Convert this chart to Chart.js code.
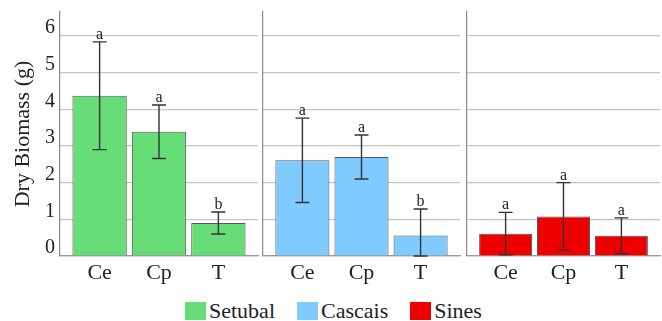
<!DOCTYPE html>
<html>
<head>
<meta charset="utf-8">
<script src="https://cdn.jsdelivr.net/npm/chart.js@4.4.1/dist/chart.umd.min.js"></script>
<style>
  html, body { margin: 0; padding: 0; background: #fff; }
  #wrap { position: relative; width: 662px; height: 321px; overflow: hidden; font-family: "Liberation Serif", "Times New Roman", Times, Tinos, "DejaVu Serif", "Noto Serif", serif; }
  canvas { position: absolute; top: 0; }
  #legend { position: absolute; left: 185px; top: 300px; display: flex; align-items: center; gap: 22px; font-size: 22px; color: #222; line-height: 22px; }
  .item { display: flex; align-items: center; gap: 3px; }
  .box { width: 21px; height: 18px; display: inline-block; }
</style>
</head>
<body>
<div id="wrap">
  <canvas id="p1" width="260" height="290" style="left:0px"></canvas>
  <canvas id="p2" width="202" height="290" style="left:260px"></canvas>
  <canvas id="p3" width="198" height="290" style="left:464px"></canvas>
  <div id="legend"></div>
</div>
<script>
// Treatments on the x axis of every panel
const categories = ['Ce', 'Cp', 'T'];
const sites = ['Setubal', 'Cascais', 'Sines'];
const siteColors = ['#66DD77', '#7FCBFF', '#EE0000'];
const yTicks = [0, 1, 2, 3, 4, 5, 6];

// Mean dry biomass (g), standard deviation and significance letters per site
const setubalMean = [4.37, 3.39, 0.90];
const setubalSd = [1.47, 0.73, 0.30];
const setubalLetters = ['a', 'a', 'b'];

const cascaisMean = [2.61, 2.70, 0.56];
const cascaisSd = [1.15, 0.60, 0.72];
const cascaisLetters = ['a', 'a', 'b'];

const sinesMean = [0.61, 1.08, 0.55];
const sinesSd = [0.58, 0.92, 0.49];
const sinesLetters = ['a', 'a', 'a'];

const panels = [
  { id: 'p1', mean: setubalMean, sd: setubalSd, letters: setubalLetters, axisWidth: 60, showY: true },
  { id: 'p2', mean: cascaisMean, sd: cascaisSd, letters: cascaisLetters, axisWidth: 3, showY: false },
  { id: 'p3', mean: sinesMean, sd: sinesSd, letters: sinesLetters, axisWidth: 3, showY: false }
];

const FONT = '"Liberation Serif", "Times New Roman", Times, Tinos, "DejaVu Serif", "Noto Serif", serif';
Chart.defaults.font.family = FONT;
Chart.defaults.color = '#222';

// Error bars with caps, plus the letter above each one
const errorBars = {
  id: 'errorBars',
  afterDatasetsDraw(chart, args, opts) {
    const ctx = chart.ctx;
    const y = chart.scales.y;
    const area = chart.chartArea;
    const meta = chart.getDatasetMeta(0);
    ctx.save();
    ctx.strokeStyle = '#333';
    ctx.lineWidth = 1.4;
    meta.data.forEach((bar, i) => {
      const m = opts.mean[i], s = opts.sd[i];
      const yTop = y.getPixelForValue(m + s);
      const yBot = Math.min(area.bottom, y.getPixelForValue(Math.max(0, m - s)));
      const x = bar.x;
      ctx.beginPath();
      ctx.moveTo(x, yTop); ctx.lineTo(x, yBot);
      ctx.moveTo(x - 7, yTop); ctx.lineTo(x + 7, yTop);
      ctx.moveTo(x - 7, yBot); ctx.lineTo(x + 7, yBot);
      ctx.stroke();
      ctx.fillStyle = '#222';
      ctx.font = '16px ' + FONT;
      ctx.textAlign = 'center';
      ctx.textBaseline = 'alphabetic';
      ctx.fillText(opts.letters[i], x, yTop - 3);
    });
    ctx.restore();
  }
};

// Fixed axis sizes, without the extra room Chart.js keeps for edge labels
const fixSize = (s, dim, val) => {
  s[dim] = val;
  s.paddingTop = 0; s.paddingBottom = 0; s.paddingLeft = 0; s.paddingRight = 0;
};

panels.forEach((p, k) => {
  new Chart(document.getElementById(p.id), {
    type: 'bar',
    data: {
      datasets: [{
        label: sites[k],
        data: p.mean.map((v, i) => ({ x: i, y: v })),
        backgroundColor: siteColors[k],
        borderColor: '#555',
        borderWidth: 1,
        barPercentage: 0.915,
        categoryPercentage: 1
      }]
    },
    options: {
      responsive: false,
      animation: false,
      devicePixelRatio: 1,
      layout: { autoPadding: false, padding: { top: 12, right: 2, left: 0, bottom: 0 } },
      plugins: {
        legend: { display: false },
        tooltip: { enabled: false },
        errorBars: { mean: p.mean, sd: p.sd, letters: p.letters }
      },
      scales: {
        x: {
          type: 'linear',
          offset: false,
          min: -0.667,
          max: 2.667,
          afterBuildTicks: s => { s.ticks = categories.map((c, i) => ({ value: i })); },
          afterFit: s => fixSize(s, 'height', 34),
          ticks: {
            callback: v => categories[v],
            font: { size: 22 },
            color: '#222',
            padding: -4,
            maxRotation: 0
          },
          grid: { display: false },
          border: { display: true, color: '#999', width: 1.2 }
        },
        y: {
          min: 0,
          max: 6.655,
          afterBuildTicks: s => { s.ticks = yTicks.map(v => ({ value: v })); },
          afterFit: s => fixSize(s, 'width', p.axisWidth),
          ticks: {
            display: p.showY,
            font: { size: 20 },
            color: '#222',
            padding: 5,
            labelOffset: -8
          },
          grid: { color: '#c4c4c4', lineWidth: 1.2, drawTicks: false },
          border: { display: true, color: '#888', width: 1.2 },
          title: {
            display: p.showY,
            text: 'Dry Biomass (g)',
            font: { size: 22 },
            color: '#222',
            padding: { top: 10, bottom: 0 }
          }
        }
      }
    },
    plugins: [errorBars]
  });
});

// Legend for the three sites
const legend = document.getElementById('legend');
sites.forEach((s, k) => {
  const item = document.createElement('div');
  item.className = 'item';
  const box = document.createElement('span');
  box.className = 'box';
  box.style.background = siteColors[k];
  const txt = document.createElement('span');
  txt.textContent = s;
  item.appendChild(box);
  item.appendChild(txt);
  legend.appendChild(item);
});
</script>
</body>
</html>
